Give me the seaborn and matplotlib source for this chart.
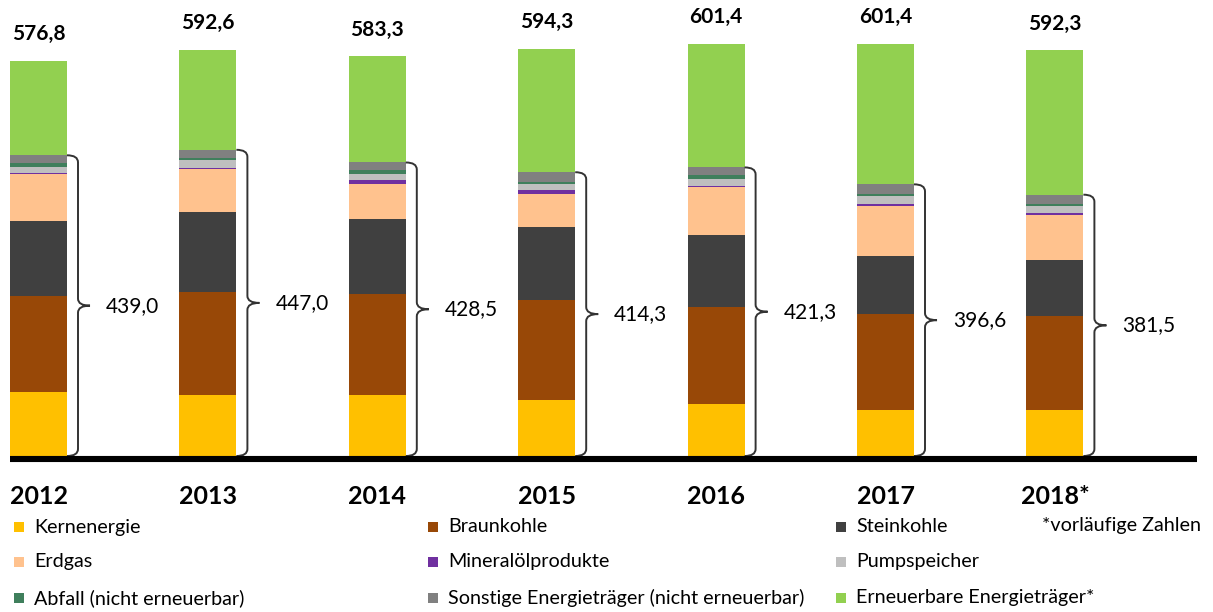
import matplotlib
matplotlib.use("Agg")
import matplotlib.pyplot as plt
from matplotlib.path import Path
from matplotlib.patches import PathPatch, Rectangle
import seaborn as sns

# Bruttostromerzeugung in TWh
years = ["2012", "2013", "2014", "2015", "2016", "2017", "2018*"]
totals = [576.8, 592.6, 583.3, 594.3, 601.4, 601.4, 592.3]
conventional = [439.0, 447.0, 428.5, 414.3, 421.3, 396.6, 381.5]

kernenergie = [93.0, 89.5, 89.5, 81.5, 75.5, 66.8, 66.8]
braunkohle = [140.5, 150.5, 147.0, 146.5, 141.5, 140.5, 137.5]
steinkohle = [109.5, 116.0, 110.0, 106.0, 106.0, 85.3, 82.5]
erdgas = [68.0, 62.3, 50.0, 48.5, 69.3, 72.4, 65.1]
mineraloel = [2.0, 2.4, 5.8, 5.8, 2.4, 2.4, 2.9]
pumpspeicher = [8.8, 11.7, 8.8, 8.8, 9.2, 11.7, 9.7]
abfall = [5.5, 2.9, 5.7, 2.9, 5.7, 2.9, 2.9]
sonstige = [11.7, 11.7, 11.7, 14.3, 11.7, 14.6, 14.1]
erneuerbare = [137.8, 145.6, 154.8, 180.0, 180.1, 204.8, 210.8]

layer_names = ["Kernenergie", "Braunkohle", "Steinkohle", "Erdgas",
               "Mineralölprodukte", "Pumpspeicher", "Abfall (nicht erneuerbar)",
               "Sonstige Energieträger (nicht erneuerbar)", "Erneuerbare Energieträger*"]
layers = [kernenergie, braunkohle, steinkohle, erdgas, mineraloel,
          pumpspeicher, abfall, sonstige, erneuerbare]
colors = ["#FFC000", "#984807", "#404040", "#FFC28E", "#7030A0",
          "#BFBFBF", "#3F7F5C", "#808080", "#92D050"]
legend_order = [0, 1, 2, 3, 4, 5, 6, 7, 8]  # row-major, 3 columns

sns.set_theme(style="white")
plt.rcParams["font.family"] = ["Lato", "DejaVu Sans"]

# pixel geometry of the reference
PX_X = 169.4      # px per bar step
PX_Y = 0.685      # px per TWh
X0_PX = 38.5      # centre of first bar
BASE_PX = 456     # baseline from top
W, H = 1213, 612

fig = plt.figure(figsize=(W / 100, H / 100), dpi=100)
ax = fig.add_axes([0, 0, 1, 1])


def px_x(px):
    return (px - X0_PX) / PX_X


def px_y(px):
    return (BASE_PX - px) / PX_Y


# stacked bars: draw cumulative sums from the top layer down
cums = []
running = [0.0] * len(years)
for vals in layers:
    running = [r + v for r, v in zip(running, vals)]
    cums.append(list(running))

bar_w = 57 / PX_X
for cum, col in reversed(list(zip(cums, colors))):
    sns.barplot(x=years, y=cum, color=col, saturation=1, width=bar_w,
                linewidth=0, ax=ax)

# baseline
ax.plot([px_x(10), px_x(1197)], [px_y(459), px_y(459)], color="black",
        lw=4.4, solid_capstyle="butt", zorder=5)


def brace(x0, y0, y1):
    xs = 1 / PX_X
    xv = x0 + 11 * xs
    xt = x0 + 23 * xs
    ym = (y0 + y1) / 2
    r = 7 / PX_Y
    verts = [(x0, y1), (xv, y1), (xv, y1 - r), (xv, ym + r), (xv, ym), (xt, ym),
             (xv, ym), (xv, ym - r), (xv, y0 + r), (xv, y0), (x0, y0)]
    codes = [Path.MOVETO, Path.CURVE3, Path.CURVE3, Path.LINETO, Path.CURVE3,
             Path.CURVE3, Path.CURVE3, Path.CURVE3, Path.LINETO, Path.CURVE3,
             Path.CURVE3]
    ax.add_patch(PathPatch(Path(verts, codes), facecolor="none",
                           edgecolor="#333333", lw=1.4, zorder=4))


for i, (yr, tot, conv) in enumerate(zip(years, totals, conventional)):
    right = i + bar_w / 2
    brace(right, 0, conv)
    ax.text(right + 39 / PX_X, conv / 2, f"{conv:.1f}".replace(".", ","),
            ha="left", va="center", fontsize=15, color="black")
    ax.annotate(f"{tot:.1f}".replace(".", ","), (i, tot), xytext=(0, 12),
                textcoords="offset points", ha="center", va="bottom",
                fontsize=15, fontweight="bold", color="black")
    ax.text(i, px_y(496), yr, ha="center", va="center", fontsize=18,
            fontweight="bold", color="black")

# legend (3 columns, row-major)
col_px = [14, 428, 836]
row_px = [527, 562, 598]
for k, idx in enumerate(legend_order):
    r, c = divmod(k, 3)
    xl = px_x(col_px[c])
    yc = px_y(row_px[r])
    ax.add_patch(Rectangle((xl, yc - 5 / PX_Y), 10 / PX_X, 10 / PX_Y,
                           facecolor=colors[idx], edgecolor="none"))
    ax.text(px_x(col_px[c] + 20), yc, layer_names[idx], ha="left",
            va="center", fontsize=14.2, color="black")
ax.text(px_x(1042), px_y(row_px[0] - 1), "*vorläufige Zahlen", ha="left",
        va="center", fontsize=14.2, color="black")

ax.set_xlim(px_x(0), px_x(W))
ax.set_ylim(px_y(H), px_y(0))
ax.set_xlabel("")
ax.set_ylabel("")
ax.axis("off")

fig.savefig("out.png", dpi=100)
